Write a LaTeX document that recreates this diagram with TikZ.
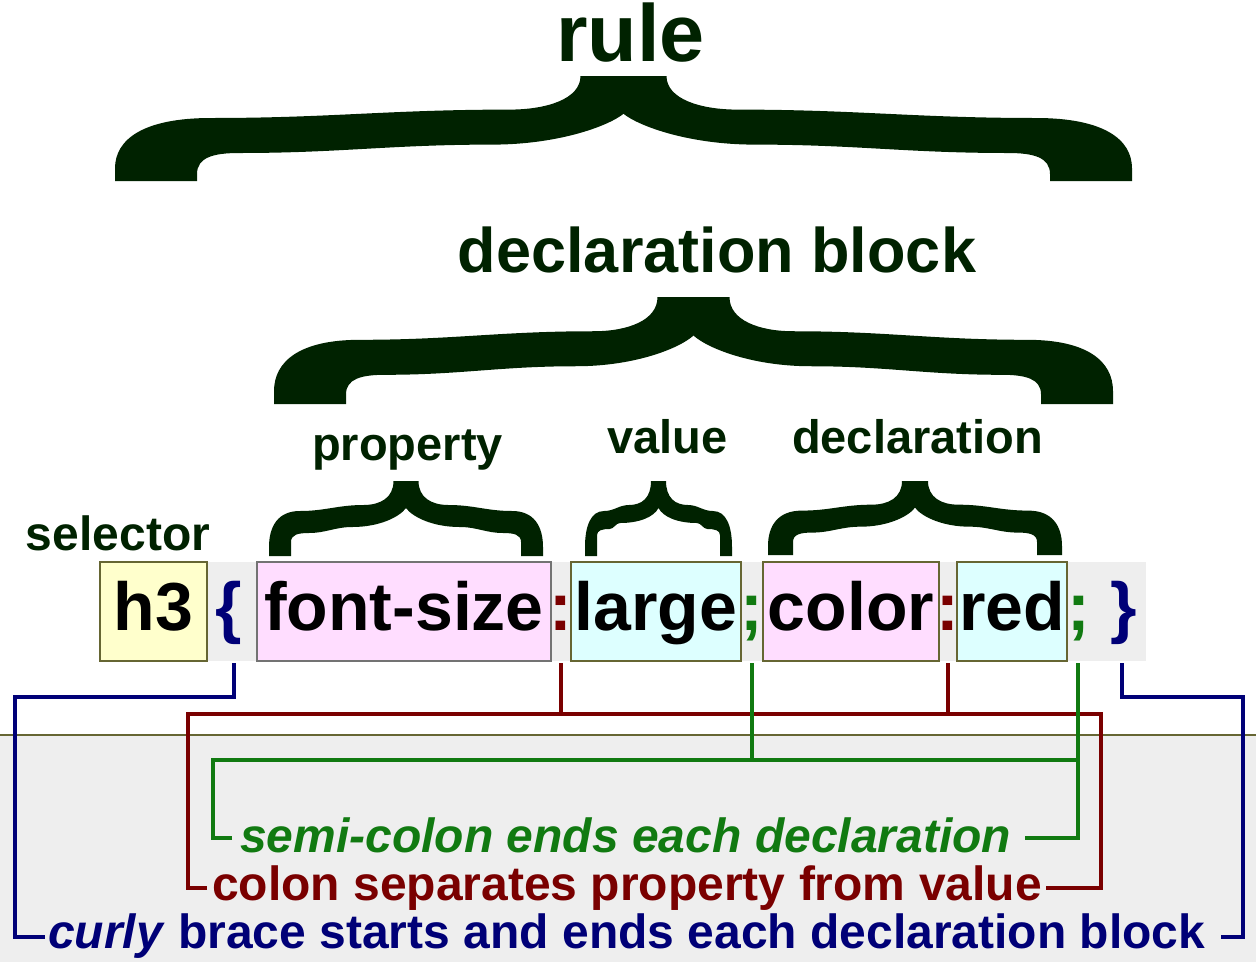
\documentclass[tikz,border=0pt]{standalone}
\usepackage{fontspec}
\setmainfont{Liberation Sans}
\definecolor{dkg}{RGB}{0,34,0}
\definecolor{navy}{RGB}{0,0,119}
\definecolor{cred}{RGB}{122,0,0}
\definecolor{cgreen}{RGB}{17,122,17}
\definecolor{stripgray}{RGB}{238,238,238}
\definecolor{olivec}{RGB}{102,102,51}
\definecolor{ypale}{RGB}{255,255,204}
\definecolor{ppink}{RGB}{255,221,255}
\definecolor{pcyan}{RGB}{221,255,255}
\newcommand\codefnt{\fontsize{68}{80}\selectfont\bfseries}
\newcommand\notefnt{\fontsize{48}{56}\selectfont\bfseries}
\newcommand\lblfnt{\fontsize{47}{56}\selectfont\bfseries}
% curly brace: L R T B footwidth thickness tiphalfwidth
\newcommand\cbrace[7]{%
  \pgfmathsetmacro\cbL{#1}\pgfmathsetmacro\cbR{#2}%
  \pgfmathsetmacro\cbT{#3}\pgfmathsetmacro\cbB{#4}%
  \pgfmathsetmacro\cbF{#5}\pgfmathsetmacro\cbH{#6}\pgfmathsetmacro\cbW{#7}%
  \pgfmathsetmacro\cbC{(\cbL+\cbR)/2}%
  \pgfmathsetmacro\cbh{\cbB-\cbT}%
  \pgfmathsetmacro\cbua{\cbT+0.40*\cbh}%
  \pgfmathsetmacro\cbub{\cbT+0.32*\cbh}%
  \pgfmathsetmacro\cbla{\cbua+\cbH}%
  \pgfmathsetmacro\cblb{\cbub+\cbH}%
  \pgfmathsetmacro\cbnv{\cbT+0.36*\cbh}%
  \pgfmathsetmacro\cbro{\cbF+0.4*\cbH}%
  \pgfmathsetmacro\cbri{0.3*\cbF+0.5*\cbH}%
  \pgfmathsetmacro\cbrt{2*\cbW+0.8*\cbH}%
  \pgfmathsetmacro\cbrn{\cbrt+0.5*\cbH}%
  \pgfmathsetmacro\cbsu{0.4*(\cbC-\cbrt-\cbL-\cbro)}%
  \pgfmathsetmacro\cbsl{0.4*(\cbC-\cbrn-\cbL-\cbF-\cbri)}%
  \fill[dkg] (\cbL,\cbB) -- (\cbL,\cbB-0.12*\cbh)
    .. controls (\cbL,\cbua+0.2*\cbh) and (\cbL+0.3*\cbro,\cbua) .. (\cbL+\cbro,\cbua)
    .. controls (\cbL+\cbro+\cbsu,\cbua) and (\cbC-\cbrt-\cbsu,\cbub) .. (\cbC-\cbrt,\cbub)
    .. controls (\cbC-\cbW-0.3*\cbrt,\cbub) and (\cbC-\cbW,\cbub-0.1*\cbh) .. (\cbC-\cbW,\cbT)
    -- (\cbC+\cbW,\cbT)
    .. controls (\cbC+\cbW,\cbub-0.1*\cbh) and (\cbC+\cbW+0.3*\cbrt,\cbub) .. (\cbC+\cbrt,\cbub)
    .. controls (\cbC+\cbrt+\cbsu,\cbub) and (\cbR-\cbro-\cbsu,\cbua) .. (\cbR-\cbro,\cbua)
    .. controls (\cbR-0.3*\cbro,\cbua) and (\cbR,\cbua+0.2*\cbh) .. (\cbR,\cbB-0.12*\cbh)
    -- (\cbR,\cbB) -- (\cbR-\cbF,\cbB) -- (\cbR-\cbF,\cbla+0.5*\cbri)
    .. controls (\cbR-\cbF,\cbla+0.1*\cbri) and (\cbR-\cbF-0.4*\cbri,\cbla) .. (\cbR-\cbF-\cbri,\cbla)
    .. controls (\cbR-\cbF-\cbri-\cbsl,\cbla) and (\cbC+\cbrn+\cbsl,\cblb) .. (\cbC+\cbrn,\cblb)
    .. controls (\cbC+0.5*\cbrn,\cblb) and (\cbC+0.12*\cbrn,\cbnv+0.12*\cbh) .. (\cbC,\cbnv)
    .. controls (\cbC-0.12*\cbrn,\cbnv+0.12*\cbh) and (\cbC-0.5*\cbrn,\cblb) .. (\cbC-\cbrn,\cblb)
    .. controls (\cbC-\cbrn-\cbsl,\cblb) and (\cbL+\cbF+\cbri+\cbsl,\cbla) .. (\cbL+\cbF+\cbri,\cbla)
    .. controls (\cbL+\cbF+0.4*\cbri,\cbla) and (\cbL+\cbF,\cbla+0.1*\cbri) .. (\cbL+\cbF,\cbla+0.5*\cbri)
    -- (\cbL+\cbF,\cbB) -- cycle;%
}
\tikzset{
  codebox/.style={draw=olivec, line width=1.5pt, text height=51pt, text depth=14pt,
    inner xsep=0pt, inner ysep=17pt, minimum height=99pt, font=\codefnt, text=black},
  punct/.style={font=\codefnt, inner sep=0pt, anchor=base},
  lbl/.style={font=\lblfnt, text=dkg, inner sep=0pt, anchor=base},
  conn/.style={line width=4pt, line cap=butt, line join=miter},
  note/.style={font=\notefnt, inner sep=0pt, anchor=base west},
}
\begin{document}
\begin{tikzpicture}[x=1pt,y=-1pt]
\useasboundingbox (0,0) rectangle (1256,962);
\fill[white] (0,0) rectangle (1256,962);
% lower grey panel
\fill[stripgray] (0,735) rectangle (1256,962);
\draw[olivec, line width=1.5pt] (0,735) -- (1256,735);

% braces
\cbrace{115}{1132}{76}{181}{82}{35}{43}
\cbrace{274}{1113}{297}{404}{72}{35}{36}
\cbrace{269}{543}{481}{556}{22}{22}{12.5}
\cbrace{585}{732}{481}{556}{12}{18}{7.5}
\cbrace{768}{1062}{481}{555}{25}{22}{13}

% labels
\node[lbl, font=\fontsize{81}{90}\selectfont\bfseries] (rule) at (630.5,61) {rule};
\node[lbl, font=\fontsize{63}{70}\selectfont\bfseries] (dblock) at (717,272) {declaration block};
\node[lbl] (prop) at (407.5,460) {property};
\node[lbl] (val) at (667.5,453) {value};
\node[lbl] (decl) at (917.5,453) {declaration};
\node[lbl, font=\fontsize{48}{56}\selectfont\bfseries] (sel) at (118,550) {selector};

% code row
\node[fill=stripgray, minimum width=939pt, minimum height=99pt, inner sep=0pt, anchor=north west] (strip) at (207,562) {};
\node[codebox, fill=ypale, minimum width=107pt] (h3) at (153.5,611.5) {h3};
\node[codebox, fill=ppink, draw=black!55, minimum width=294pt] (fs) at (404,611.5) {font-size};
\node[codebox, fill=pcyan, minimum width=170pt] (lg) at (656,611.5) {large};
\node[codebox, fill=ppink, minimum width=176pt] (col) at (851,611.5) {color};
\node[codebox, fill=pcyan, minimum width=110pt] (rd) at (1012,611.5) {red};
\node[punct, text=navy] (lb) at (229,630) {\{};
\node[punct, text=cred] (c1) at (561,630) {:};
\node[punct, text=cgreen] (s1) at (752,630) {;};
\node[punct, text=cred] (c2) at (948,630) {:};
\node[punct, text=cgreen] (s2) at (1079,630) {;};
\node[punct, text=navy] (rb) at (1124,630) {\}};

% notes
\node[note, text=cgreen] (noteA) at (240,852) {\itshape semi-colon ends each declaration};
\node[note, text=cred] (noteB) at (212,900) {colon separates property from value};
\node[note, text=navy] (noteC) at (48,948) {\textit{curly} brace starts and ends each declaration block};

% helper coordinates
\coordinate (top) at (0,663);
\coordinate (yB) at (0,697);
\coordinate (yR) at (0,714);
\coordinate (yG) at (0,760);
\coordinate (bLx) at (15,0);
\coordinate (bRx) at (1243,0);
\coordinate (rLx) at (188,0);
\coordinate (rRx) at (1101,0);
\coordinate (gLx) at (213,0);
\coordinate (sA) at (0,838);
\coordinate (sB) at (0,888);
\coordinate (sC) at (0,937);

% blue connectors
\draw[conn, navy] ([xshift=5pt]lb.south |- top) |- (bLx |- yB) -- (bLx |- sC) -- ([xshift=-3pt]noteC.west |- sC);
\draw[conn, navy] ([xshift=-2pt]rb.south |- top) |- (bRx |- yB) -- (bRx |- sC) -- ([xshift=15pt]noteC.east |- sC);

% red connectors
\draw[conn, cred] ([xshift=-5pt]noteB.west |- sB) -| (rLx |- yR) -- (rRx |- yR) |- ([xshift=4pt]noteB.east |- sB);
\draw[conn, cred] (c1.south |- top) -- (c1.south |- yR);
\draw[conn, cred] (c2.south |- top) -- (c2.south |- yR);

% green connectors
\draw[conn, cgreen] ([xshift=-8pt]noteA.west |- sA) -| (gLx |- yG) -- ([xshift=-1pt]s2.south |- yG);
\draw[conn, cgreen] ([xshift=-1pt]s2.south |- top) |- ([xshift=14pt]noteA.east |- sA);
\draw[conn, cgreen] (s1.south |- top) -- (s1.south |- yG);
\end{tikzpicture}
\end{document}
